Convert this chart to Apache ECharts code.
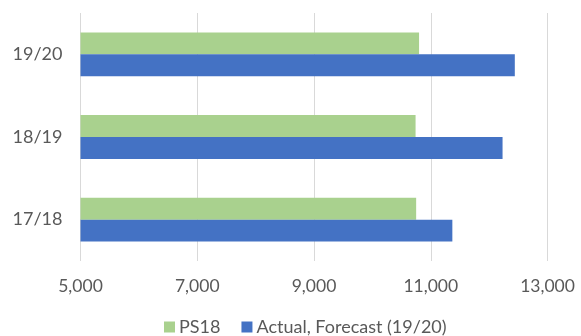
<!DOCTYPE html>
<html>
<head>
<meta charset="utf-8">
<script src="https://cdn.jsdelivr.net/npm/echarts@6/dist/echarts.min.js"></script>
<style>
  html, body { margin: 0; padding: 0; background: #fff; }
  #chart { width: 581px; height: 336px; }
</style>
</head>
<body>
<div id="chart"></div>
<script>
// Seasons, bottom to top
const categories = ['17/18', '18/19', '19/20'];
// PS18 plan values
const ps18 = [10750, 10740, 10800];
// Actual figures, forecast for 19/20
const actualForecast = [11370, 12230, 12440];
const seriesNames = ['PS18', 'Actual, Forecast (19/20)'];
const axisMin = 5000;
const axisMax = 13000;
const axisStep = 2000;

const chart = echarts.init(document.getElementById('chart'), null, { renderer: 'canvas' });
const textColor = '#595959';
const fontFamily = 'Lato, "Open Sans", sans-serif';

chart.setOption({
  animation: false,
  textStyle: { fontFamily: fontFamily },
  legend: {
    left: 159,
    top: 313,
    itemWidth: 11,
    itemHeight: 11,
    itemGap: 21,
    icon: 'rect',
    textStyle: { color: textColor, fontSize: 18, fontFamily: fontFamily, padding: [0, 0, 0, -1] },
    data: seriesNames
  },
  grid: { left: 80.5, right: 33.5, top: 13, bottom: 75, containLabel: false },
  xAxis: {
    type: 'value',
    min: axisMin,
    max: axisMax,
    interval: axisStep,
    axisLine: { show: false },
    axisTick: { show: false },
    splitLine: { show: true, lineStyle: { color: '#d9d9d9', width: 1 } },
    axisLabel: {
      color: textColor,
      fontSize: 17.5,
      margin: 16,
      formatter: v => v.toLocaleString('en-US')
    }
  },
  yAxis: {
    type: 'category',
    data: categories,
    axisLine: { show: false },
    axisTick: { show: false },
    axisLabel: { color: textColor, fontSize: 18, margin: 18 }
  },
  series: [
    {
      name: seriesNames[0],
      type: 'bar',
      data: ps18,
      barGap: '0%',
      barCategoryGap: '47%',
      itemStyle: { color: '#A9D18E' }
    },
    {
      name: seriesNames[1],
      type: 'bar',
      data: actualForecast,
      barGap: '0%',
      barCategoryGap: '47%',
      itemStyle: { color: '#4472C4' }
    }
  ]
});
</script>
</body>
</html>
